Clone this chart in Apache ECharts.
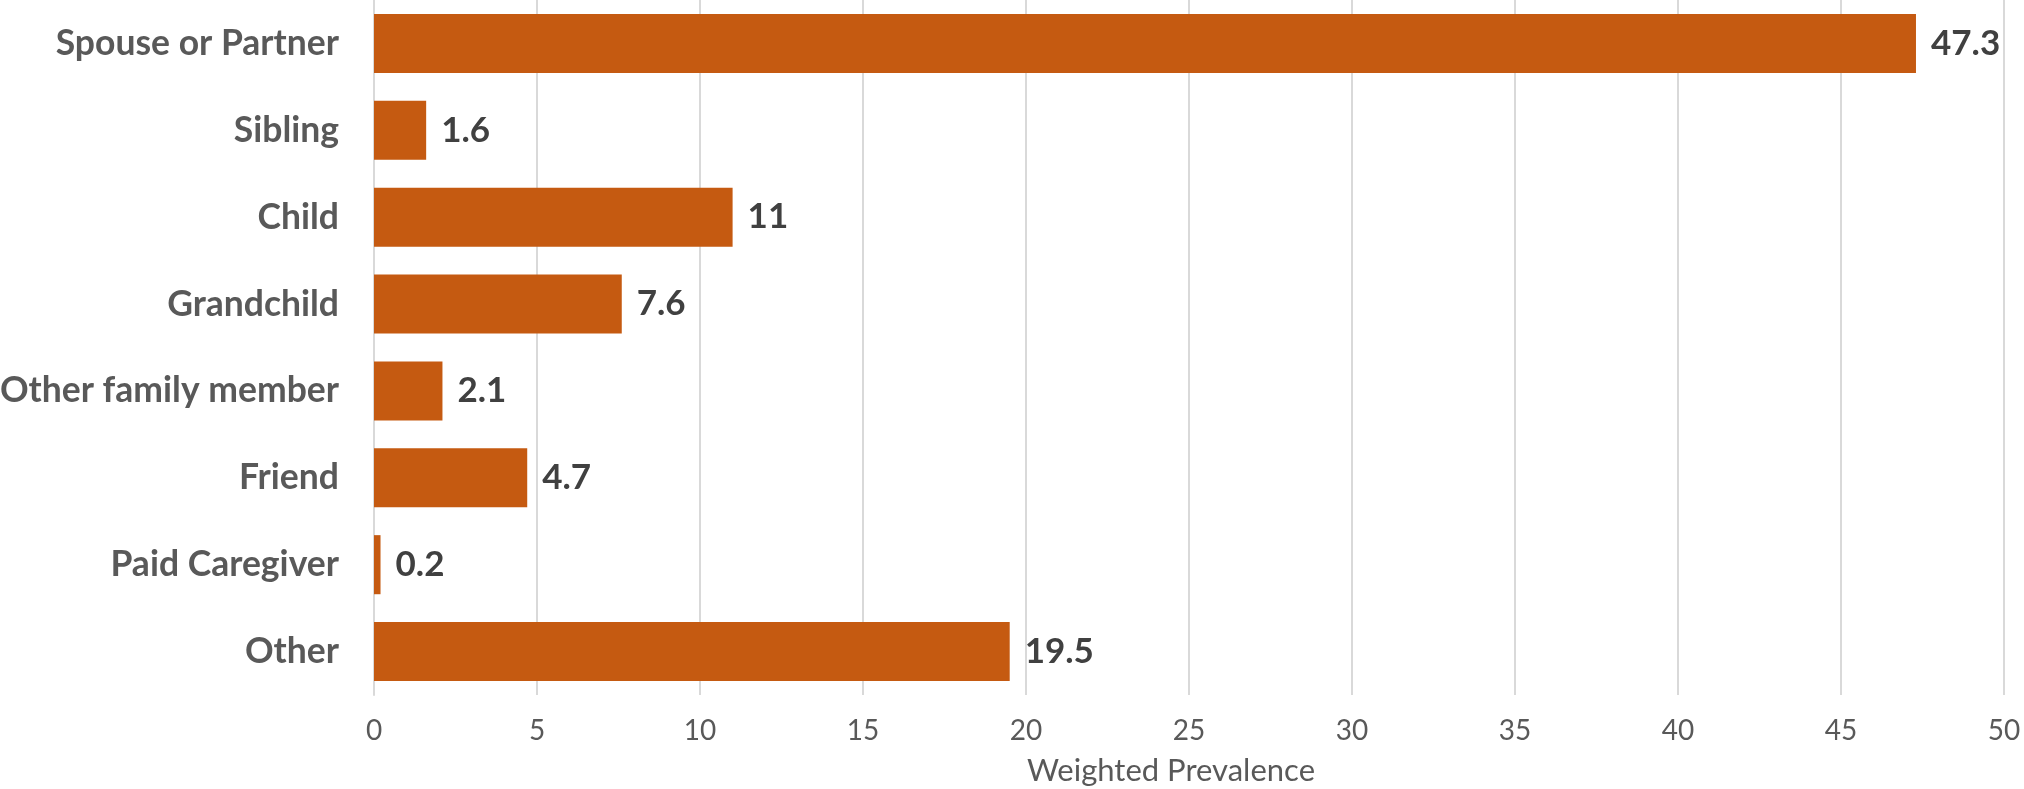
<!DOCTYPE html>
<html>
<head>
<meta charset="utf-8">
<style>
  html, body { margin: 0; padding: 0; background: #ffffff; }
  #chart { width: 2024px; height: 789px; }
</style>
<script src="https://cdn.jsdelivr.net/npm/echarts@6/dist/echarts.min.js"></script>
</head>
<body>
<div id="chart"></div>
<script>
// Caregiver relationship categories, listed top to bottom
const categories = [
  'Spouse or Partner',
  'Sibling',
  'Child',
  'Grandchild',
  'Other family member',
  'Friend',
  'Paid Caregiver',
  'Other'
];
// Weighted prevalence for each category
const prevalence = [47.3, 1.6, 11, 7.6, 2.1, 4.7, 0.2, 19.5];
const axisTitle = 'Weighted Prevalence';

const chart = echarts.init(document.getElementById('chart'), null, { renderer: 'canvas' });

chart.setOption({
  animation: false,
  backgroundColor: '#ffffff',
  grid: { left: 374, right: 20, top: 0, bottom: 94, containLabel: false, outerBoundsMode: 'none' },
  xAxis: {
    type: 'value',
    min: 0,
    max: 50,
    interval: 5,
    name: axisTitle,
    nameLocation: 'middle',
    nameGap: 60,
    nameTextStyle: { fontFamily: 'Lato', fontSize: 31, color: '#595959', padding: [0, 36, 0, 0] },
    axisLine: { show: false },
    axisTick: { show: false },
    axisLabel: { fontFamily: 'Lato', fontSize: 28, color: '#595959', margin: 22 },
    splitLine: { show: true, lineStyle: { color: '#d9d9d9', width: 2 } }
  },
  yAxis: {
    type: 'category',
    data: categories,
    inverse: true,
    axisLine: { show: true, lineStyle: { color: '#d9d9d9', width: 2 } },
    axisTick: { show: false },
    axisLabel: { fontFamily: 'Lato', fontWeight: 'bold', fontSize: 35.5, color: '#595959', margin: 35 }
  },
  series: [{
    type: 'bar',
    data: prevalence,
    barCategoryGap: '32%',
    itemStyle: { color: '#c55a11' },
    label: {
      show: true,
      position: 'right',
      distance: 15,
      fontFamily: 'Lato',
      fontWeight: 'bold',
      fontSize: 35,
      color: '#404040'
    }
  }]
});
</script>
</body>
</html>
